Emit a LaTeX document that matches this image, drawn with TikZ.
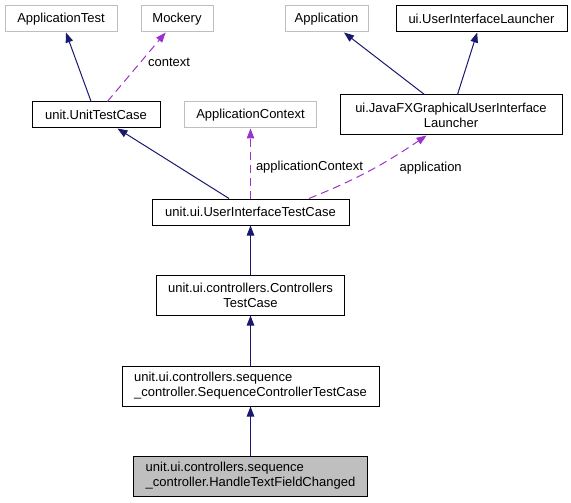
\documentclass[tikz,border=0pt]{standalone}
\usepackage{fontspec}
\setmainfont{Liberation Sans}
\usetikzlibrary{arrows.meta}

\definecolor{inheritblue}{HTML}{191970}
\definecolor{usagepurple}{HTML}{9A32CD}
\definecolor{undocgrey}{HTML}{BFBFBF}

\tikzstyle{classdecorate} = [shape=rectangle,line width=1pt,inner sep=2pt,font=\fontsize{13}{15}\selectfont]
\tikzstyle{docbox} = [classdecorate,draw=black]
\tikzstyle{undocbox} = [classdecorate,draw=undocgrey]
\tikzstyle{currentbox} = [classdecorate,draw=black,fill=undocgrey]
\tikzstyle{varname} = [font=\fontsize{13}{15}\selectfont,text=black,inner sep=0pt]
\tikzstyle{inheritdecorate}=[-{Triangle[length=10pt,width=7.5pt]},draw=inheritblue,line width=1pt]
\tikzstyle{usagedecorate}=[-{Triangle[length=10pt,width=7.5pt]},draw=usagepurple,line width=1pt,dash pattern=on 8pt off 5pt]

\begin{document}
\begin{tikzpicture}[x=1pt,y=-1pt]
      \useasboundingbox (0,0) rectangle (571,503);

      \foreach \nodename/\x/\y/\w/\h/\deco/\al/\txt in {
        appTest/61/19/112/26/undocbox/center/{ApplicationTest},
        mockery/177/19/72/26/undocbox/center/{Mockery},
        application/326.5/19/83/26/undocbox/center/{Application},
        uiLauncher/481.5/19/171/26/docbox/center/{ui.UserInterfaceLauncher},
        unitTestCase/96/115/128/26/docbox/center/{unit.UnitTestCase},
        appContext/250.5/115/132/26/undocbox/center/{ApplicationContext},
        javaFX/451/115/222/40/docbox/center/{ui.JavaFXGraphicalUserInterface\\Launcher},
        uiTestCase/250.5/212/197/26/docbox/center/{unit.ui.UserInterfaceTestCase},
        ctrlTestCase/250.5/295/188/40/docbox/center/{unit.ui.controllers.Controllers\\TestCase},
        seqTestCase/250.5/386/257/40/docbox/left/{unit.ui.controllers.sequence\\\_controller.SequenceControllerTestCase},
        handleChanged/250.5/476/234/40/currentbox/left/{unit.ui.controllers.sequence\\\_controller.HandleTextFieldChanged}}
      {
        \node (\nodename) at (\x,\y) [\deco,align=\al,minimum width=\w pt,minimum height=\h pt] {\txt};
      }
      %% inheritance
      \path
      \foreach \startnode/\endnode in {unitTestCase/appTest,
        javaFX/application, javaFX/uiLauncher, uiTestCase/unitTestCase,
        ctrlTestCase/uiTestCase, seqTestCase/ctrlTestCase, handleChanged/seqTestCase}
      {
        (\startnode) edge[inheritdecorate] (\endnode)
      };
      %% usage
      \path
        (unitTestCase) edge[usagedecorate] node[varname,pos=0.57,right=7pt] {context} (mockery)
        (uiTestCase) edge[usagedecorate] node[varname,pos=0.45,right=5pt] {applicationContext} (appContext)
        (uiTestCase.13) edge[usagedecorate,out=22,in=214] node[varname,pos=0.55,right=24pt] {application} (javaFX.220);
\end{tikzpicture}
\end{document}
